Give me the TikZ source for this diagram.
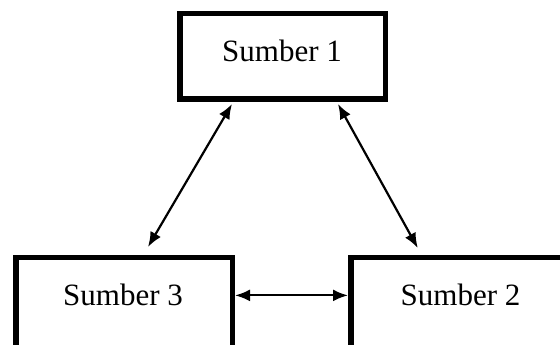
\documentclass[tikz,border=0pt]{standalone}
\usepackage{fontspec}
\setmainfont{Liberation Serif}
\usetikzlibrary{arrows.meta,calc}

\begin{document}
\begin{tikzpicture}[
  x=1pt,y=1pt,
  box/.style={draw=black,line width=5.5pt,fill=white,inner sep=0pt},
  lbl/.style={font=\fontsize{31}{37}\selectfont,anchor=base,inner sep=0pt},
  e/.style={{Latex[length=15pt,width=12pt]}-{Latex[length=15pt,width=12pt]},line width=2.2pt},
]
\useasboundingbox (0,0) rectangle (560,345);

% boxes
\node[box,minimum width=205.5,minimum height=85.5] (s1) at (282.5,288.5) {};
\node[box,minimum width=216.5,minimum height=110]  (s3) at (124,32.25)   {};
\node[box,minimum width=220,minimum height=110]    (s2) at (460.75,32.25) {};

% labels
\node[lbl] (l1) at (282,283) {Sumber 1};
\node[lbl] (l3) at (123,39)  {Sumber 3};
\node[lbl] (l2) at (460.5,39) {Sumber 2};

% links
\draw[e] ([xshift=-50.5,yshift=-2]s1.south) -- ([xshift=24,yshift=8]s3.north);
\draw[e] ([xshift=55.5,yshift=-2]s1.south) -- ([xshift=-43,yshift=7]s2.north);
\draw[e] (s3.east |- l3.center) -- (s2.west |- l3.center);
\end{tikzpicture}
\end{document}
